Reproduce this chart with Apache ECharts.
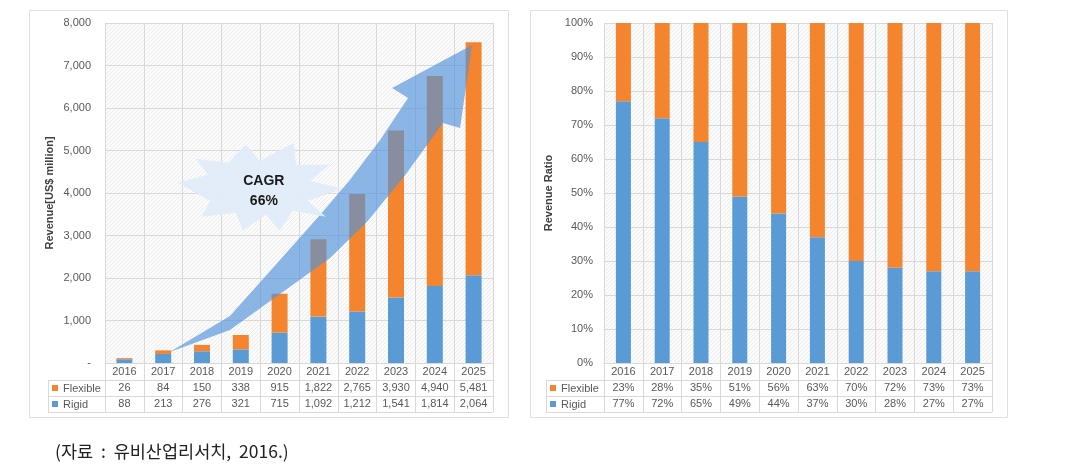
<!DOCTYPE html>
<html><head><meta charset="utf-8">
<script src="https://cdn.jsdelivr.net/npm/echarts@6/dist/echarts.min.js"></script>
<style>html,body{margin:0;padding:0;background:#fff;}#c{width:1072px;height:466px;}</style>
</head><body><div id="c"></div>
<script>
// ---- data ----
const years = ['2016','2017','2018','2019','2020','2021','2022','2023','2024','2025'];
const flexible = [26,84,150,338,915,1822,2765,3930,4940,5481];
const rigid = [88,213,276,321,715,1092,1212,1541,1814,2064];
const flexiblePct = [23,28,35,51,56,63,70,72,73,73];
const rigidPct = [77,72,65,49,44,37,30,28,27,27];
const cagrLabel = ['CAGR','66%'];
// CAGR arrow outline in data space (category position, revenue)
const arrowPos = [1.17,2.72,4.01,5.30,6.25,7.24,8.21,8.65,8.96,6.90,7.31,6.59,5.81,5.04,4.01,2.72];
const arrowVal = [259,776,1624,2471,3318,4424,5647,5529,7482,6471,6235,5247,4306,3482,2424,1106];
const starAnchor = [3.44, 4150];

// ---- layout ----
const L1 = 105, L2 = 604, GT = 23, GW = 388, GH = 340;
const ORANGE = '#f4852e', BLUE = '#5b9bd5';
const LBL = '#595959', LINE = '#d9d9d9';
const FONT = 'Liberation Sans, Arial, sans-serif';

function hatch(){
  const c = document.createElement('canvas'); c.width = 4; c.height = 4;
  const g = c.getContext('2d');
  g.fillStyle = '#fbfbfb'; g.fillRect(0,0,4,4);
  g.fillStyle = '#ececec';
  g.fillRect(0,3,1,1); g.fillRect(1,2,1,1); g.fillRect(2,1,1,1); g.fillRect(3,0,1,1);
  return {image: c, repeat: 'repeat'};
}
const bg = hatch();

function tableLabel(vals1, vals2){
  return function(v, i){ return '{y|' + v + '}\n{d|' + vals1[i] + '}\n{d|' + vals2[i] + '}'; };
}
const fmt = n => n.toLocaleString('en-US');
const richT = {
  y: {fontSize: 11, color: LBL, lineHeight: 16, fontFamily: FONT},
  d: {fontSize: 11, color: LBL, lineHeight: 16, fontFamily: FONT}
};

function xCat(grid, a1, a2){
  return {
    type: 'category', gridIndex: grid, data: years, boundaryGap: true,
    axisLine: {lineStyle: {color: LINE}},
    axisTick: {show: true, length: 49, lineStyle: {color: LINE}},
    splitLine: {show: true, lineStyle: {color: LINE}},
    axisLabel: {interval: 0, margin: 1, formatter: tableLabel(a1, a2), rich: richT}
  };
}

const starPts = [[85,2],[50,14],[68,30],[35,24],[22,44],[8,28],[-15,44],[-22,26],[-56,30],[-48,14],[-80,-4],[-50,-12],[-62,-28],[-30,-24],[-12,-42],[2,-26],[36,-44],[38,-22],[72,-22],[52,-6]];

const option = {
  animation: false,
  backgroundColor: '#fff',
  grid: [
    {left: L1, top: GT, width: GW, height: GH, show: true, backgroundColor: bg, borderWidth: 0},
    {left: L2, top: GT, width: GW, height: GH, show: true, backgroundColor: bg, borderWidth: 0}
  ],
  xAxis: [
    xCat(0, flexible.map(fmt), rigid.map(fmt)),
    {type: 'value', gridIndex: 0, min: -0.5, max: 9.5, show: false},
    xCat(1, flexiblePct.map(v => v + '%'), rigidPct.map(v => v + '%'))
  ],
  yAxis: [
    {type: 'value', gridIndex: 0, min: 0, max: 8000, interval: 1000,
     name: 'Revenue[US$ million]', nameLocation: 'middle', nameGap: 50,
     nameTextStyle: {fontSize: 11, fontWeight: 'bold', color: '#404040', fontFamily: FONT},
     axisLine: {show: false}, axisTick: {show: false},
     splitLine: {lineStyle: {color: LINE}},
     axisLabel: {margin: 14, fontSize: 11, color: LBL, fontFamily: FONT,
       formatter: v => v === 0 ? '-' : fmt(v)}},
    {type: 'value', gridIndex: 1, min: 0, max: 100, interval: 10,
     name: 'Revenue Ratio', nameLocation: 'middle', nameGap: 50,
     nameTextStyle: {fontSize: 11, fontWeight: 'bold', color: '#404040', fontFamily: FONT},
     axisLine: {show: false}, axisTick: {show: false},
     splitLine: {lineStyle: {color: LINE}},
     axisLabel: {margin: 11, fontSize: 11, color: LBL, fontFamily: FONT, formatter: '{value}%'}}
  ],
  series: [
    {name: 'Rigid', type: 'bar', xAxisIndex: 0, yAxisIndex: 0, stack: 'a', data: rigid, barWidth: 16, itemStyle: {color: BLUE}},
    {name: 'Flexible', type: 'bar', xAxisIndex: 0, yAxisIndex: 0, stack: 'a', data: flexible, barWidth: 16, itemStyle: {color: ORANGE}},
    {name: 'RigidPct', type: 'bar', xAxisIndex: 2, yAxisIndex: 1, stack: 'b', data: rigidPct, barWidth: 15, itemStyle: {color: BLUE}},
    {name: 'FlexiblePct', type: 'bar', xAxisIndex: 2, yAxisIndex: 1, stack: 'b', data: flexiblePct, barWidth: 15, itemStyle: {color: ORANGE}},
    {type: 'custom', xAxisIndex: 1, yAxisIndex: 0, z: 5, silent: true, clip: false,
     data: [[0, 0]],
     renderItem: function(params, api){
       const pts = arrowPos.map((p, i) => api.coord([p, arrowVal[i]]));
       const c = api.coord(starAnchor);
       const sp = starPts.map(d => [c[0] + d[0], c[1] + d[1]]);
       return {type: 'group', children: [
         {type: 'polygon', shape: {points: pts, smooth: 0}, style: {fill: 'rgba(80,145,218,0.66)'}},
         {type: 'polygon', shape: {points: sp}, style: {fill: 'rgba(224,236,249,0.95)'}},
         {type: 'text', style: {x: c[0] + 6, y: c[1] - 5, text: cagrLabel[0], fill: '#1a1a1a',
           font: 'bold 14px ' + FONT, textAlign: 'center', textVerticalAlign: 'middle'}},
         {type: 'text', style: {x: c[0] + 6, y: c[1] + 15, text: cagrLabel[1], fill: '#1a1a1a',
           font: 'bold 14px ' + FONT, textAlign: 'center', textVerticalAlign: 'middle'}}
       ]};
     }}
  ],
  graphic: []
};

function panel(x0, x1, tableLeft, gridLeft){
  const gr = gridLeft + GW;
  const ls = {stroke: LINE, lineWidth: 1};
  return [
    {type: 'rect', shape: {x: x0 + 0.5, y: 10.5, width: x1 - x0, height: 407}, style: {fill: 'none', stroke: '#e0e0e0', lineWidth: 1}, silent: true},
    {type: 'line', shape: {x1: tableLeft, y1: 380.5, x2: gr, y2: 380.5}, style: ls, silent: true},
    {type: 'line', shape: {x1: tableLeft, y1: 396.5, x2: gr, y2: 396.5}, style: ls, silent: true},
    {type: 'line', shape: {x1: tableLeft, y1: 412.5, x2: gr, y2: 412.5}, style: ls, silent: true},
    {type: 'line', shape: {x1: tableLeft + 0.5, y1: 380.5, x2: tableLeft + 0.5, y2: 412.5}, style: ls, silent: true},
    {type: 'rect', shape: {x: tableLeft + 4, y: 385, width: 6, height: 6}, style: {fill: ORANGE}, silent: true},
    {type: 'rect', shape: {x: tableLeft + 4, y: 401, width: 6, height: 6}, style: {fill: BLUE}, silent: true},
    {type: 'text', x: tableLeft + 15, y: 388.5, style: {text: 'Flexible', fill: LBL, font: '11px ' + FONT, textVerticalAlign: 'middle'}, silent: true},
    {type: 'text', x: tableLeft + 15, y: 404.5, style: {text: 'Rigid', fill: LBL, font: '11px ' + FONT, textVerticalAlign: 'middle'}, silent: true}
  ];
}
option.graphic = [].concat(
  panel(29, 508, 48, L1),
  panel(530, 1007, 546, L2),
  [{type: 'text', x: 55, y: 451, style: {text: '(자료  :  유비산업리서치,  2016.)', fill: '#222',
     font: '17.5px "Noto Sans CJK KR", sans-serif', textVerticalAlign: 'middle'}, silent: true}]
);

const chart = echarts.init(document.getElementById('c'), null, {renderer: 'canvas'});
chart.setOption(option);
</script></body></html>
